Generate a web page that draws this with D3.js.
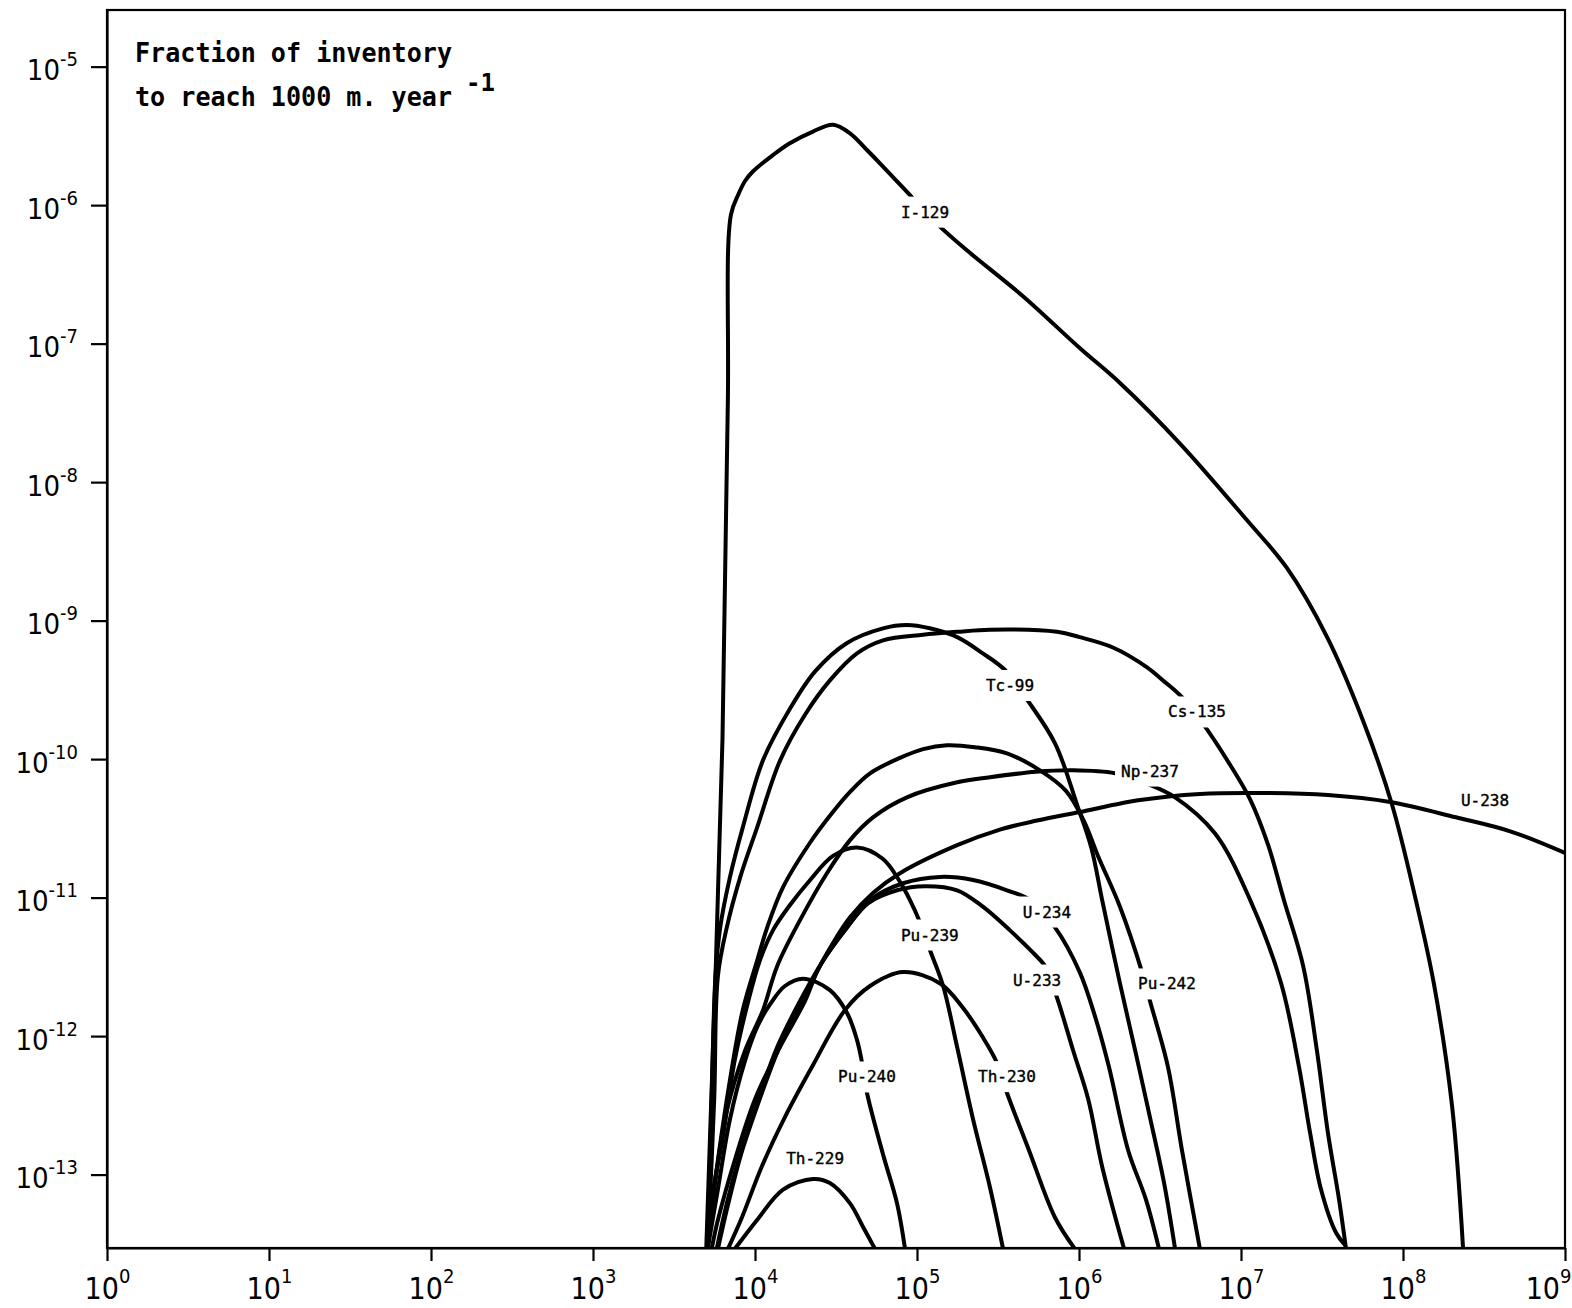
<!DOCTYPE html>
<html>
<head>
<meta charset="utf-8">
<script src="https://cdn.jsdelivr.net/npm/d3@7"></script>
<style>
  html, body { margin: 0; padding: 0; background: #fff; }
  svg { display: block; }
</style>
</head>
<body>
<script>
// ---- Data (time in years, fraction of inventory per year) ----
const xTickValues = [1e0, 1e1, 1e2, 1e3, 1e4, 1e5, 1e6, 1e7, 1e8, 1e9];
const xTickExponents = ["0", "1", "2", "3", "4", "5", "6", "7", "8", "9"];
const yTickValues = [1e-5, 1e-6, 1e-7, 1e-8, 1e-9, 1e-10, 1e-11, 1e-12, 1e-13];
const yTickExponents = ["-5", "-6", "-7", "-8", "-9", "-10", "-11", "-12", "-13"];

const I129 = [[5.0e3,2.9e-14],[6.3e3,1.4e-10],[6.8e3,3.9e-8],[7.1e3,8.5e-7],[7.9e3,1.2e-6],[8.7e3,1.5e-6],[9.7e3,1.75e-6],[1.29e4,2.3e-6],[1.64e4,2.8e-6],[2.28e4,3.4e-6],[3.03e4,3.8e-6],[3.86e4,3.3e-6],[4.91e4,2.5e-6],[6.17e4,1.9e-6],[9.31e4,1.14e-6],[1.35e5,7.2e-7],[2.04e5,4.7e-7],[4.51e5,2.2e-7],[1.01e6,9.3e-8],[1.79e6,5.2e-8],[4.2e6,1.9e-8],[1.09e7,5.3e-9],[1.92e7,2.4e-9],[3.4e7,7.6e-10],[5.66e7,1.9e-10],[8.55e7,4.7e-11],[1.2e8,9.6e-12],[1.55e8,2.4e-12],[2.01e8,3.1e-13],[2.35e8,2.9e-14]];
const Tc99 = [[5.1e3,2.9e-14],[5.4e3,3.5e-13],[5.7e3,2.7e-12],[6.1e3,6.1e-12],[7.0e3,1.4e-11],[8.4e3,3.2e-11],[1.12e4,9.8e-11],[1.64e4,2.3e-10],[2.35e4,4.3e-10],[3.7e4,6.9e-10],[6.17e4,8.8e-10],[8.67e4,9.3e-10],[1.2e5,8.8e-10],[1.77e5,7.6e-10],[2.55e5,5.8e-10],[3.49e5,4.4e-10],[4.77e5,2.7e-10],[7.11e5,1.3e-10],[9.72e5,4.7e-11],[1.19e6,2.3e-11],[1.39e6,9.6e-12],[1.79e6,2.4e-12],[2.22e6,7.9e-13],[2.74e6,2.6e-13],[3.35e6,8.7e-14],[3.92e6,2.9e-14]];
const Cs135 = [[5.1e3,2.9e-14],[5.6e3,3.5e-13],[5.9e3,2.7e-12],[6.7e3,6.1e-12],[8.1e3,1.4e-11],[1.03e4,3.2e-11],[1.43e4,9.8e-11],[2.04e4,2.1e-10],[2.9e4,3.7e-10],[4.26e4,5.8e-10],[6.17e4,7.2e-10],[1.09e5,7.9e-10],[1.77e5,8.3e-10],[2.82e5,8.6e-10],[7.31e5,8.3e-10],[1.01e6,7.6e-10],[1.62e6,6.4e-10],[2.63e6,4.6e-10],[3.3e6,3.7e-10],[4.32e6,2.8e-10],[5.91e6,1.76e-10],[8.56e6,9.1e-11],[1.14e7,5.1e-11],[1.47e7,2.4e-11],[1.84e7,9.6e-12],[2.42e7,3.2e-12],[2.94e7,7.9e-13],[3.44e7,2.0e-13],[4.03e7,6.6e-14],[4.45e7,2.9e-14]];
const Np237 = [[5.1e3,2.9e-14],[5.7e3,9.1e-14],[6.7e3,2.9e-13],[8.7e3,7.9e-13],[1.12e4,1.54e-12],[1.37e4,3.2e-12],[1.9e4,6.9e-12],[2.78e4,1.5e-11],[3.86e4,2.6e-11],[5.35e4,3.8e-11],[8.67e4,5.3e-11],[1.77e5,6.8e-11],[2.82e5,7.4e-11],[5.43e5,8.1e-11],[9.19e5,8.3e-11],[1.67e6,7.9e-11],[2.59e6,6.7e-11],[3.92e6,5.3e-11],[6.92e6,2.9e-11],[1.14e7,9.6e-12],[1.77e7,2.4e-12],[2.28e7,6.0e-13],[2.67e7,2.0e-13],[3.12e7,7.8e-14],[3.86e7,3.8e-14],[4.39e7,3.1e-14]];
const Pu242 = [[5.1e3,2.9e-14],[5.3e3,4.7e-14],[5.9e3,1.27e-13],[7.0e3,4.8e-13],[8.4e3,1.54e-12],[1.03e4,3.5e-12],[1.19e4,6.1e-12],[1.49e4,1.19e-11],[2.19e4,2.5e-11],[2.9e4,3.9e-11],[3.86e4,5.8e-11],[5.13e4,7.9e-11],[7.85e4,1.02e-10],[1.09e5,1.18e-10],[1.53e5,1.26e-10],[2.28e5,1.22e-10],[3.59e5,1.1e-10],[5.74e5,8.3e-11],[8.31e5,5.9e-11],[1.07e6,3.6e-11],[1.31e6,2.0e-11],[1.79e6,8.6e-12],[2.45e6,2.9e-12],[2.74e6,1.8e-12],[3.54e6,6.0e-13],[4.32e6,1.5e-13],[5.58e6,2.9e-14]];
const U238 = [[5.4e3,2.9e-14],[5.9e3,4.7e-14],[7.5e3,1.27e-13],[1.0e4,3.5e-13],[1.39e4,7.9e-13],[2.04e4,1.8e-12],[2.41e4,2.9e-12],[3.03e4,4.7e-12],[3.86e4,7.2e-12],[5.35e4,1.08e-11],[7.85e4,1.5e-11],[1.77e5,2.39e-11],[3.25e5,3.1e-11],[5.51e5,3.6e-11],[1.01e6,4.15e-11],[2.38e6,5.06e-11],[5.58e6,5.6e-11],[1.22e7,5.7e-11],[3.44e7,5.5e-11],[8.32e7,4.9e-11],[2.12e8,3.8e-11],[4.64e8,3.0e-11],[1.0e9,2.1e-11]];
const U234 = [[5.8e3,2.9e-14],[6.7e3,6.2e-14],[8.1e3,1.4e-13],[1.03e4,3.3e-13],[1.37e4,8.3e-13],[1.9e4,1.8e-12],[2.63e4,3.5e-12],[3.7e4,6.1e-12],[5.13e4,9.6e-12],[8.2e4,1.27e-11],[1.39e5,1.41e-11],[2.22e5,1.34e-11],[3.59e5,1.13e-11],[4.99e5,9.6e-12],[7.11e5,6.1e-12],[1.01e6,2.9e-12],[1.26e6,1.37e-12],[1.53e6,6.0e-13],[2.01e6,1.5e-13],[2.59e6,6.6e-14],[3.12e6,2.9e-14]];
const U233 = [[5.9e3,2.9e-14],[6.8e3,6.0e-14],[8.2e3,1.4e-13],[1.04e4,3.2e-13],[1.39e4,7.9e-13],[1.9e4,1.7e-12],[2.59e4,3.4e-12],[3.59e4,5.8e-12],[4.98e4,9.1e-12],[7.53e4,1.13e-11],[1.12e5,1.21e-11],[1.77e5,1.13e-11],[2.55e5,8.6e-12],[3.75e5,5.8e-12],[5.2e5,4.0e-12],[6.17e5,3.2e-12],[7.31e5,1.9e-12],[9.19e5,7.9e-13],[1.14e6,3.5e-13],[1.39e6,1.14e-13],[1.9e6,2.9e-14]];
const Pu239 = [[5.1e3,2.9e-14],[5.4e3,6.6e-14],[6.3e3,1.8e-13],[7.5e3,6.7e-13],[9.1e3,1.8e-12],[1.07e4,3.5e-12],[1.29e4,5.8e-12],[1.64e4,8.8e-12],[2.19e4,1.34e-11],[3.03e4,2.0e-11],[4.26e4,2.3e-11],[6.17e4,1.9e-11],[7.85e4,1.3e-11],[9.05e4,9.6e-12],[1.04e5,6.7e-12],[1.2e5,4.2e-12],[1.45e5,2.3e-12],[1.77e5,8.3e-13],[2.22e5,2.5e-13],[2.82e5,8.1e-14],[3.4e5,2.9e-14]];
const Pu240 = [[5.1e3,2.9e-14],[5.9e3,7.8e-14],[7.0e3,2.5e-13],[8.7e3,6.7e-13],[1.03e4,1.16e-12],[1.24e4,1.7e-12],[1.53e4,2.3e-12],[1.98e4,2.6e-12],[2.9e4,2.15e-12],[3.7e4,1.47e-12],[4.26e4,9.4e-13],[4.57e4,6.5e-13],[4.91e4,3.9e-13],[6.17e4,1.4e-13],[7.53e4,6.2e-14],[8.44e4,2.9e-14]];
const Th230 = [[6.8e3,2.9e-14],[8.3e3,4.9e-14],[1.1e4,1.14e-13],[1.53e4,2.6e-13],[2.25e4,6.0e-13],[3.59e4,1.54e-12],[5.13e4,2.3e-12],[8.2e4,2.9e-12],[1.39e5,2.4e-12],[1.92e5,1.6e-12],[2.55e5,9.8e-13],[3.12e5,6.4e-13],[3.59e5,3.9e-13],[4.91e5,1.5e-13],[7.11e5,4.9e-14],[9.45e5,2.9e-14]];
const Th229 = [[7.5e3,2.9e-14],[1.03e4,4.7e-14],[1.49e4,7.8e-14],[2.28e4,9.3e-14],[2.9e4,8.7e-14],[3.86e4,6.2e-14],[4.64e4,4.2e-14],[5.51e4,2.9e-14]];

const seriesList = [I129, Tc99, Cs135, Np237, Pu242, U238, U234, U233, Pu239, Pu240, Th230, Th229];

const labelNames = ["I-129", "Tc-99", "Cs-135", "Np-237", "U-238", "U-234", "Pu-239", "U-233", "Pu-242", "Pu-240", "Th-230", "Th-229"];
const labelT = [1.12e5, 3.75e5, 5.35e6, 2.74e6, 3.21e8, 6.34e5, 1.2e5, 5.51e5, 3.49e6, 4.91e4, 3.59e5, 2.35e4];
const labelF = [8.9e-7, 3.4e-10, 2.19e-10, 8.2e-11, 5.06e-11, 7.87e-12, 5.37e-12, 2.54e-12, 2.38e-12, 5.07e-13, 5.1e-13, 1.3e-13];
const labelCut = [true, true, true, true, false, true, true, true, true, true, true, false];

const titleLines = ["Fraction of inventory", "to reach 1000 m. year"];
const titleSup = "-1";

// ---- Layout ----
const W = 1572, H = 1308;
const mL = 107, mR = 1565, mT = 10, mB = 1248;

const svg = d3.select("body").append("svg").attr("width", W).attr("height", H);

const x = d3.scaleLog().domain([1, 1e9]).range([mL, mR]);
const y = d3.scaleLog().domain([Math.pow(10, -13.53), Math.pow(10, -4.591)]).range([mB, mT]);

svg.append("defs").append("clipPath").attr("id", "plotclip")
  .append("rect").attr("x", mL).attr("y", mT).attr("width", mR - mL).attr("height", mB - mT);

// Curves
const line = d3.line().x(d => x(d[0])).y(d => y(d[1])).curve(d3.curveCatmullRom.alpha(0.5));
const curves = svg.append("g").attr("clip-path", "url(#plotclip)");
curves.selectAll("path").data(seriesList).join("path")
  .attr("d", line)
  .attr("fill", "none")
  .attr("stroke", "#000")
  .attr("stroke-width", 4)
  .attr("stroke-linejoin", "round")
  .attr("stroke-linecap", "round");

// Labels with white gap behind
const labelG = svg.append("g");
labelNames.forEach((name, i) => {
  const g = labelG.append("g").attr("transform", `translate(${x(labelT[i])},${y(labelF[i])})`);
  const rect = g.append("rect").attr("fill", "#fff");
  const t = g.append("text")
    .attr("text-anchor", "middle")
    .attr("dominant-baseline", "central")
    .attr("font-family", "'DejaVu Sans Mono', monospace")
    .attr("font-size", 16)
    .attr("fill", "#000")
    .attr("stroke", "#000")
    .attr("stroke-width", 0.4)
    .text(name);
  if (labelCut[i]) {
    const bb = t.node().getBBox();
    rect.attr("x", bb.x - 6).attr("y", bb.y - 6).attr("width", bb.width + 12).attr("height", bb.height + 12);
  } else {
    rect.remove();
  }
});

// Frame
svg.append("rect").attr("x", mL).attr("y", mT).attr("width", mR - mL).attr("height", mB - mT)
  .attr("fill", "none").attr("stroke", "#000").attr("stroke-width", 2.2);

// X axis
const xAxis = d3.axisBottom(x).tickValues(xTickValues).tickFormat("").tickSizeInner(13).tickSizeOuter(0);
const xg = svg.append("g").attr("transform", `translate(0,${mB})`).call(xAxis);
xg.select(".domain").attr("stroke-width", 2.2);
xg.selectAll(".tick line").attr("stroke-width", 2.2);
xg.selectAll(".tick").each(function(d, i) {
  const last = i === xTickValues.length - 1;
  const t = d3.select(this).append("text")
    .attr("y", 51).attr("x", last ? (W - 1 - x(d)) : 0)
    .attr("text-anchor", last ? "end" : "middle")
    .attr("fill", "#000")
    .attr("font-family", "'DejaVu Sans Condensed', 'DejaVu Sans', sans-serif")
    .attr("font-size", 30);
  t.append("tspan").text("10");
  t.append("tspan").attr("dy", -16).attr("font-size", 20).text(xTickExponents[i]);
});

// Y axis
const yAxis = d3.axisLeft(y).tickValues(yTickValues).tickFormat("").tickSizeInner(16).tickSizeOuter(0);
const yg = svg.append("g").attr("transform", `translate(${mL},0)`).call(yAxis);
yg.select(".domain").attr("stroke-width", 2.2);
yg.selectAll(".tick line").attr("stroke-width", 2.2);
yg.selectAll(".tick").each(function(d, i) {
  const t = d3.select(this).append("text")
    .attr("x", -29).attr("y", 13)
    .attr("text-anchor", "end")
    .attr("fill", "#000")
    .attr("font-family", "'DejaVu Sans Condensed', 'DejaVu Sans', sans-serif")
    .attr("font-size", 29);
  t.append("tspan").text("10");
  t.append("tspan").attr("dy", -14).attr("font-size", 20).text(yTickExponents[i]);
});

// Title text
const title = svg.append("g").attr("font-family", "'DejaVu Sans Mono', monospace").attr("font-weight", "bold").attr("fill", "#000");
title.append("text").attr("x", 135).attr("y", 62).attr("font-size", 26)
  .attr("textLength", 317).attr("lengthAdjust", "spacingAndGlyphs").text(titleLines[0]);
title.append("text").attr("x", 135).attr("y", 106).attr("font-size", 26)
  .attr("textLength", 317).attr("lengthAdjust", "spacingAndGlyphs").text(titleLines[1]);
title.append("text").attr("x", 466).attr("y", 91).attr("font-size", 24).text(titleSup);
</script>
</body>
</html>
